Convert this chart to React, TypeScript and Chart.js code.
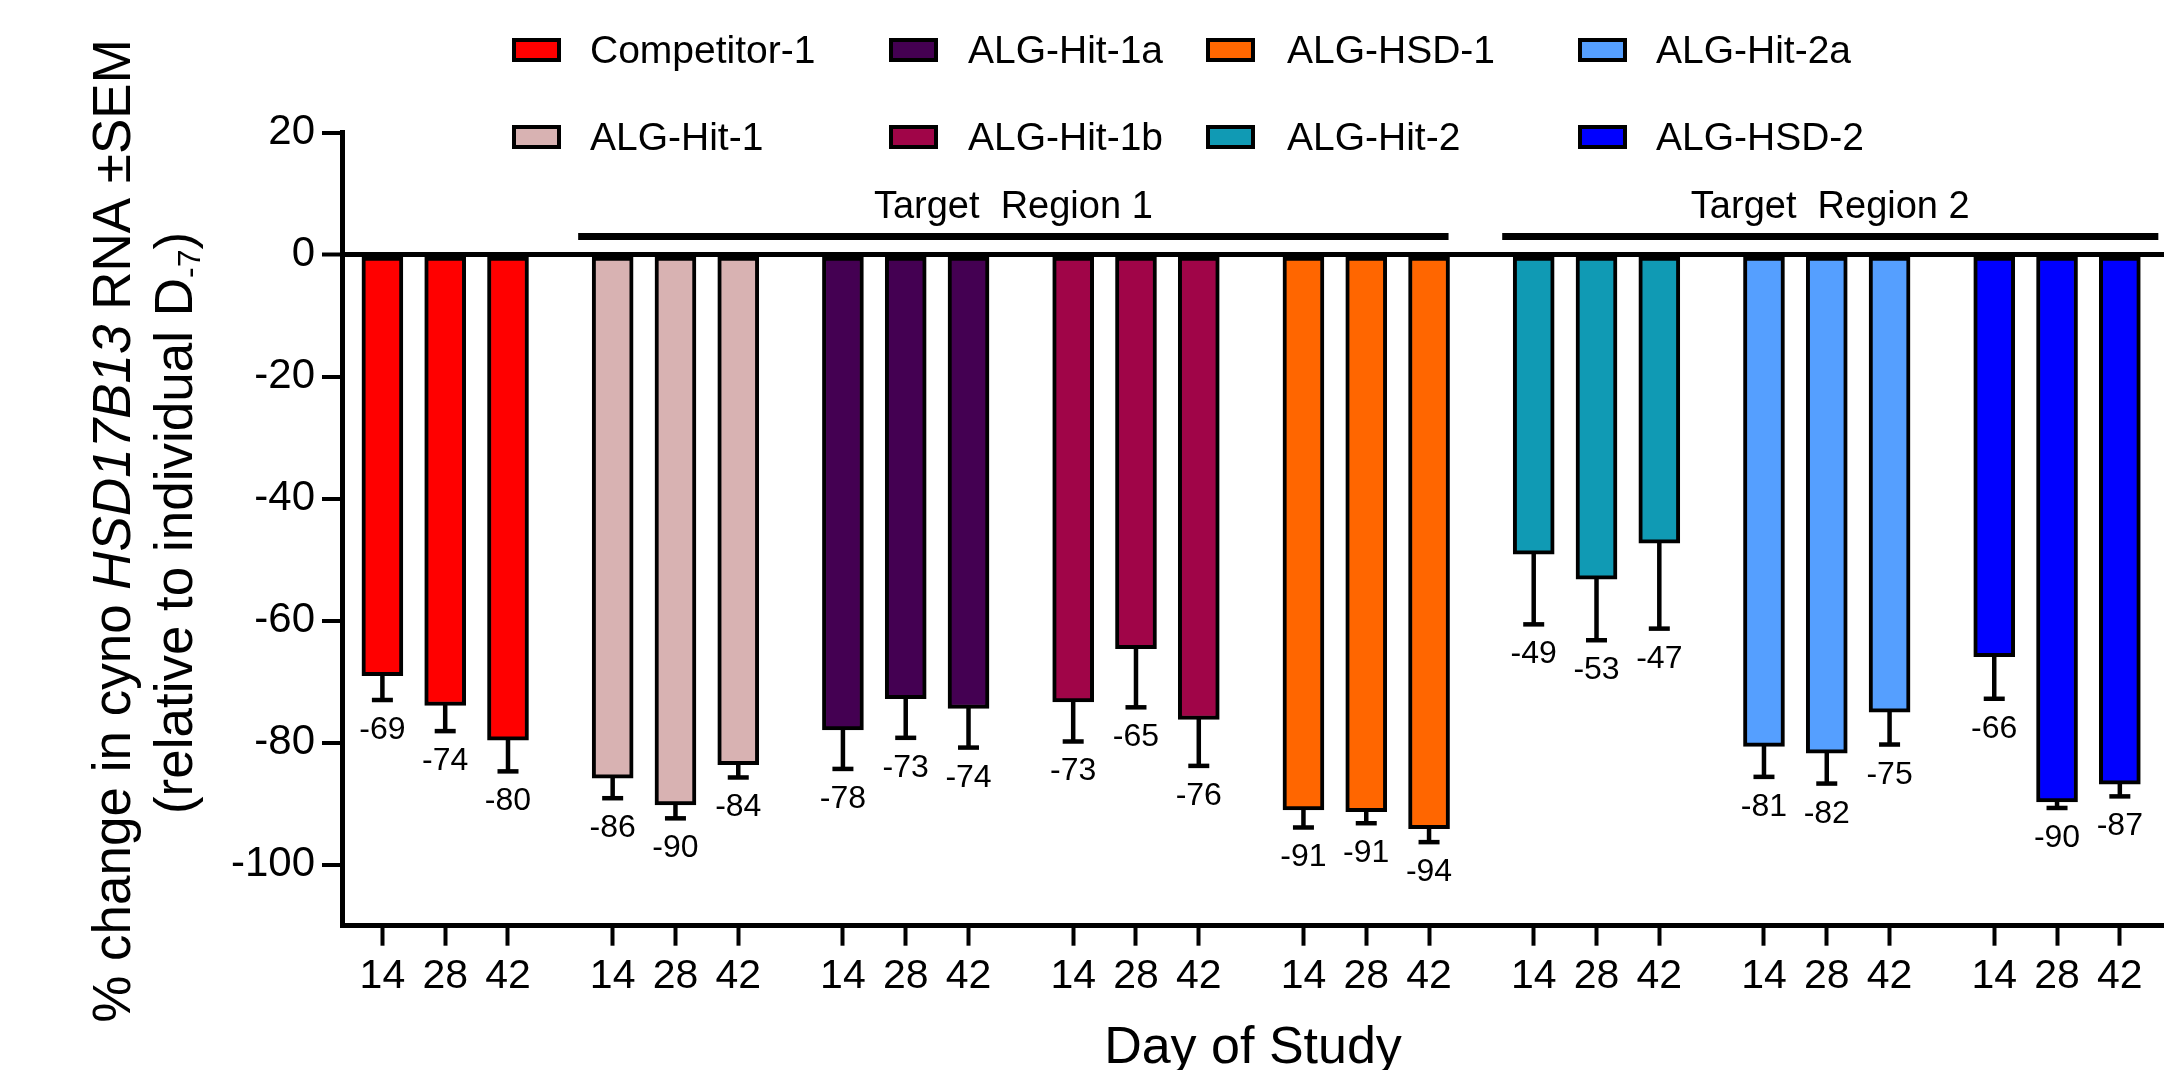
import React, { useEffect, useRef } from 'react';
import { Chart, registerables } from 'chart.js';

Chart.register(...registerables);

const FONT = '"Liberation Sans", Arial, Helvetica, sans-serif';

// ---------- data ----------
const GROUPS = [
  'Competitor-1',
  'ALG-Hit-1',
  'ALG-Hit-1a',
  'ALG-Hit-1b',
  'ALG-HSD-1',
  'ALG-Hit-2',
  'ALG-Hit-2a',
  'ALG-HSD-2',
];
const DAYS = ['14', '28', '42'];

const COMPETITOR_1 = [-69.0, -73.9, -79.6];
const ALG_HIT_1 = [-85.8, -90.2, -83.6];
const ALG_HIT_1A = [-77.9, -72.8, -74.4];
const ALG_HIT_1B = [-73.3, -64.6, -76.2];
const ALG_HSD_1 = [-91.0, -91.3, -94.1];
const ALG_HIT_2 = [-49.1, -53.2, -47.3];
const ALG_HIT_2A = [-80.6, -81.7, -75.0];
const ALG_HSD_2 = [-65.9, -89.7, -86.8];

const SEM_COMPETITOR_1 = [4.0, 4.2, 5.1];
const SEM_ALG_HIT_1 = [3.3, 2.2, 2.1];
const SEM_ALG_HIT_1A = [6.4, 6.4, 6.4];
const SEM_ALG_HIT_1B = [6.5, 9.6, 7.6];
const SEM_ALG_HSD_1 = [2.9, 1.9, 2.2];
const SEM_ALG_HIT_2 = [11.5, 10.0, 14.0];
const SEM_ALG_HIT_2A = [5.0, 5.0, 5.3];
const SEM_ALG_HSD_2 = [6.9, 1.0, 2.0];

const MEANS = [COMPETITOR_1, ALG_HIT_1, ALG_HIT_1A, ALG_HIT_1B, ALG_HSD_1, ALG_HIT_2, ALG_HIT_2A, ALG_HSD_2];
const SEMS = [
  SEM_COMPETITOR_1, SEM_ALG_HIT_1, SEM_ALG_HIT_1A, SEM_ALG_HIT_1B,
  SEM_ALG_HSD_1, SEM_ALG_HIT_2, SEM_ALG_HIT_2A, SEM_ALG_HSD_2,
];

const COLORS = ['#FF0000', '#D8B2B2', '#440052', '#A00548', '#FF6600', '#109AB4', '#559FFF', '#0000FF'];

const Y_TICKS = [20, 0, -20, -40, -60, -80, -100];

const REGIONS = [
  { label: 'Target  Region 1', firstGroup: 1, lastGroup: 4 },
  { label: 'Target  Region 2', firstGroup: 5, lastGroup: 7 },
];

// ---------- layout / style ----------
const W = 2164;
const H = 1070;
const GROUP_PITCH = 11 / 3; // in bar slots
const X_MIN = -0.6433;
const X_MAX = 28.37;
const BAR_W = 41;
const REGION_PAD = [[14, -1], [11, 18]];
const LEG_BOX_X = [512, 889, 1206, 1578];
const LEG_TEXT_X = [590, 968, 1287, 1656];
const LEG_BOX_TOP = [38, 125];
const LEG_BASELINE = [63, 150];

const barPos = (g: number, d: number) => g * GROUP_PITCH + d;

const TICK_POSITIONS: number[] = [];
GROUPS.forEach((_, g) => DAYS.forEach((__, d) => TICK_POSITIONS.push(barPos(g, d))));

const fmt = (v: number) => (v < 0 ? '-' : '') + Math.round(Math.abs(v));

function drawSegments(ctx: CanvasRenderingContext2D, segs: { t: string; size: number; italic?: boolean; dy?: number }[]) {
  let total = 0;
  const widths = segs.map((s) => {
    ctx.font = `${s.italic ? 'italic ' : ''}${s.size}px ${FONT}`;
    const w = ctx.measureText(s.t).width;
    total += w;
    return w;
  });
  let x = -total / 2;
  segs.forEach((s, i) => {
    ctx.font = `${s.italic ? 'italic ' : ''}${s.size}px ${FONT}`;
    ctx.fillText(s.t, x, s.dy || 0);
    x += widths[i];
  });
}

const decorPlugin = {
  id: 'decor',
  afterDatasetsDraw(chart: any) {
    const { ctx } = chart;
    const y = chart.scales.y;
    chart.data.datasets.forEach((_ds: any, di: number) => {
      const meta = chart.getDatasetMeta(di);
      meta.data.forEach((bar: any, j: number) => {
        const v = MEANS[di][j];
        const s = SEMS[di][j];
        const yEnd = y.getPixelForValue(v - s);
        ctx.save();
        ctx.strokeStyle = '#000';
        ctx.lineWidth = 4.5;
        ctx.lineCap = 'butt';
        ctx.beginPath();
        ctx.moveTo(bar.x, bar.y - 2);
        ctx.lineTo(bar.x, yEnd);
        ctx.stroke();
        ctx.beginPath();
        ctx.moveTo(bar.x - 10.5, yEnd);
        ctx.lineTo(bar.x + 10.5, yEnd);
        ctx.stroke();
        ctx.fillStyle = '#000';
        ctx.font = `32px ${FONT}`;
        ctx.textAlign = 'center';
        ctx.textBaseline = 'alphabetic';
        ctx.fillText(fmt(v), bar.x, yEnd + 39);
        ctx.restore();
      });
    });
  },
  afterDraw(chart: any) {
    const { ctx } = chart;
    const x = chart.scales.x;
    const y = chart.scales.y;
    ctx.save();
    ctx.fillStyle = '#000';
    ctx.strokeStyle = '#000';

    // legend (column-major, 2 rows)
    GROUPS.forEach((g, k) => {
      const col = Math.floor(k / 2);
      const row = k % 2;
      const bx = LEG_BOX_X[col];
      const by = LEG_BOX_TOP[row];
      ctx.fillStyle = COLORS[k];
      ctx.fillRect(bx, by, 49, 24);
      ctx.lineWidth = 4;
      ctx.strokeStyle = '#000';
      ctx.strokeRect(bx + 2, by + 2, 45, 20);
      ctx.fillStyle = '#000';
      ctx.font = `39px ${FONT}`;
      ctx.textAlign = 'left';
      ctx.textBaseline = 'alphabetic';
      ctx.fillText(g, LEG_TEXT_X[col], LEG_BASELINE[row]);
    });

    // target regions
    REGIONS.forEach((r, i) => {
      const xs = x.getPixelForValue(barPos(r.firstGroup, 0)) - BAR_W / 2 - REGION_PAD[i][0];
      const xe = x.getPixelForValue(barPos(r.lastGroup, 2)) + BAR_W / 2 + REGION_PAD[i][1];
      const ly = y.getPixelForValue(3);
      ctx.lineWidth = 7;
      ctx.beginPath();
      ctx.moveTo(xs, ly);
      ctx.lineTo(xe, ly);
      ctx.stroke();
      ctx.font = `38px ${FONT}`;
      ctx.textAlign = 'center';
      ctx.textBaseline = 'alphabetic';
      ctx.fillText(r.label, (xs + xe) / 2, ly - 18.5);
    });

    // y axis title (two lines, rotated)
    ctx.textAlign = 'left';
    ctx.textBaseline = 'alphabetic';
    ctx.save();
    ctx.translate(130, 531);
    ctx.rotate(-Math.PI / 2);
    drawSegments(ctx, [
      { t: '% change in cyno ', size: 53 },
      { t: 'HSD17B13', size: 53, italic: true },
      { t: ' RNA ±SEM', size: 53 },
    ]);
    ctx.restore();
    ctx.save();
    ctx.translate(192, 523);
    ctx.rotate(-Math.PI / 2);
    drawSegments(ctx, [
      { t: '(relative to individual D', size: 53 },
      { t: '-7', size: 32, dy: 8 },
      { t: ')', size: 53 },
    ]);
    ctx.restore();
    ctx.restore();
  },
};

export default function App() {
  const ref = useRef<HTMLCanvasElement | null>(null);

  useEffect(() => {
    document.body.style.margin = '0';
    document.body.style.overflow = 'hidden';
    Chart.defaults.font.family = FONT;
    const canvas = ref.current;
    if (!canvas) return;

    const chart = new Chart(canvas, {
      type: 'bar',
      data: {
        datasets: GROUPS.map((g, gi) => ({
          label: g,
          data: MEANS[gi].map((v, di) => ({ x: barPos(gi, di), y: v })),
          backgroundColor: COLORS[gi],
          borderColor: '#000',
          borderWidth: 4,
          borderSkipped: false,
          barThickness: BAR_W,
          grouped: false,
        })),
      },
      options: {
        responsive: false,
        animation: false,
        devicePixelRatio: 1,
        layout: { padding: { top: 132.7, left: 0, right: 0, bottom: 0 } },
        plugins: { legend: { display: false }, tooltip: { enabled: false } },
        scales: {
          x: {
            type: 'linear',
            min: X_MIN,
            max: X_MAX,
            offset: false,
            afterBuildTicks: (s: any) => {
              s.ticks = TICK_POSITIONS.map((v) => ({ value: v }));
            },
            afterFit: (s: any) => {
              s.height = H - 925.7;
            },
            ticks: {
              autoSkip: false,
              maxRotation: 0,
              minRotation: 0,
              color: '#000',
              padding: 6,
              font: { family: FONT, size: 41 },
              callback: (_v: any, i: number) => DAYS[i % 3],
            },
            grid: {
              offset: false,
              drawOnChartArea: false,
              drawTicks: true,
              tickLength: 20,
              tickWidth: 4,
              tickColor: '#000',
            },
            border: { display: true, color: '#000', width: 5 },
            title: {
              display: true,
              text: 'Day of Study',
              color: '#000',
              font: { family: FONT, size: 52, lineHeight: 1.2 },
              padding: { top: 0, bottom: -10 },
            },
          },
          y: {
            type: 'linear',
            min: -110,
            max: 20,
            afterBuildTicks: (s: any) => {
              s.ticks = Y_TICKS.map((v) => ({ value: v }));
            },
            afterFit: (s: any) => {
              s.width = 342;
            },
            ticks: {
              color: '#000',
              padding: 7,
              font: { family: FONT, size: 42 },
              callback: (v: any) => String(v),
            },
            grid: {
              drawOnChartArea: true,
              color: (c: any) => (c.tick && c.tick.value === 0 ? '#000' : 'rgba(0,0,0,0)'),
              lineWidth: (c: any) => (c.tick && c.tick.value === 0 ? 5 : 0),
              drawTicks: true,
              tickLength: 20,
              tickWidth: 4,
              tickColor: '#000',
            },
            border: { display: true, color: '#000', width: 5 },
          },
        },
      },
      plugins: [decorPlugin],
    } as any);

    return () => chart.destroy();
  }, []);

  return (
    <div style={{ position: 'absolute', left: 0, top: 0, width: W, height: H, background: '#fff' }}>
      <canvas ref={ref} width={W} height={H} style={{ display: 'block', width: W, height: H }} />
    </div>
  );
}
